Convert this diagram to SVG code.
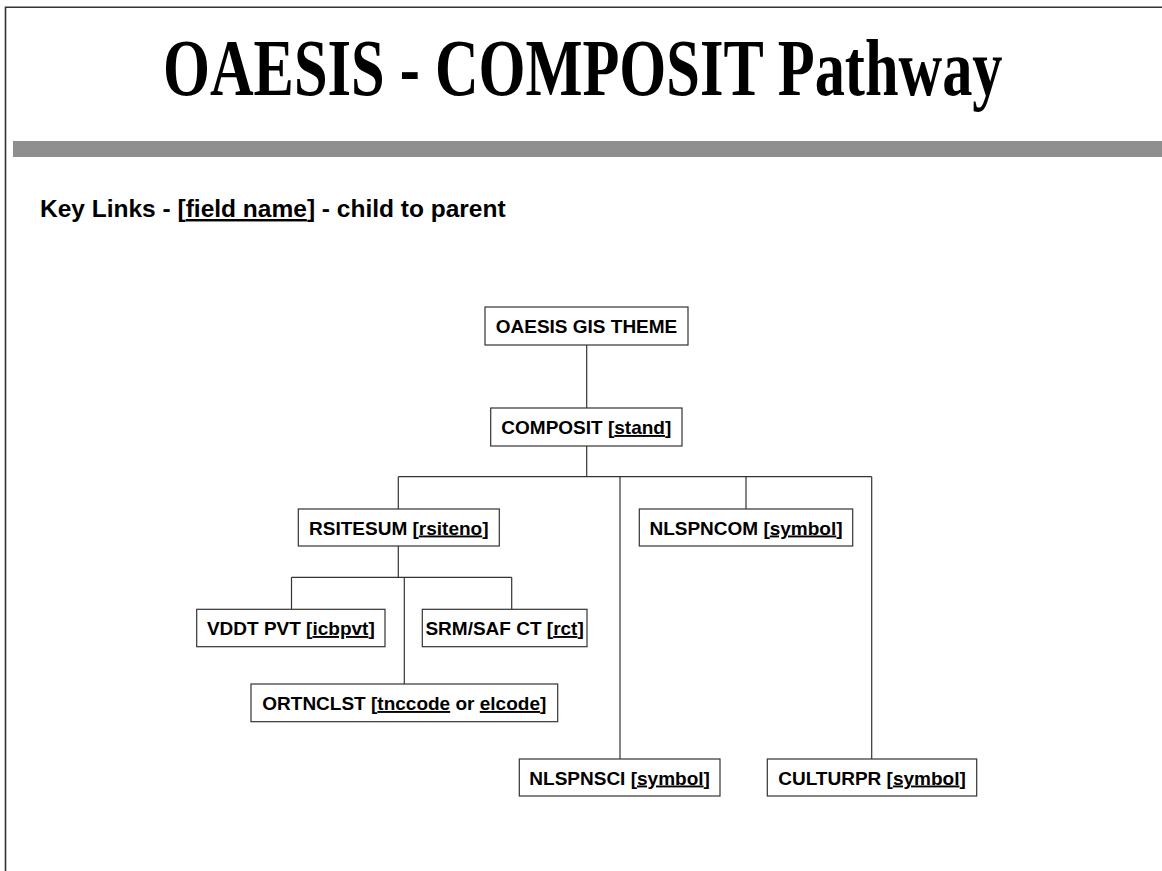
<svg xmlns="http://www.w3.org/2000/svg" width="1162" height="871" viewBox="0 0 1162 871">
<style>
.frame{stroke:#333;stroke-width:1.6;fill:none}
.box{fill:#fff;stroke:#333;stroke-width:1.2}
.lbl{font-family:"Liberation Sans",Arial,sans-serif;font-weight:bold;font-size:19px;fill:#000;text-anchor:middle}
.u{text-decoration:underline}
.conn{stroke:#333;stroke-width:1.2;fill:none}
</style>
<rect x="0" y="0" width="1162" height="871" fill="#fff"/>
<path class="frame" d="M5.5 871 V7.3 H1162"/>
<rect x="13" y="141" width="1149" height="16" fill="#8f8f8f"/>
<text transform="translate(163,95) scale(0.755,1)" x="0" y="0" font-family="'Liberation Serif','Times New Roman',serif" font-weight="bold" font-size="80" textLength="1112" lengthAdjust="spacingAndGlyphs">OAESIS - COMPOSIT Pathway</text>
<text x="40" y="217" font-family="'Liberation Sans',Arial,sans-serif" font-weight="bold" font-size="24.5">Key Links - [<tspan class="u">field name</tspan>] - child to parent</text>
<g id="connectors">
<path class="conn" d="M586.7 345 V408"/>
<path class="conn" d="M586.7 446 V476.7"/>
<path class="conn" d="M398.3 476.7 H871.7"/>
<path class="conn" d="M398.3 476.7 V509"/>
<path class="conn" d="M620 476.7 V759"/>
<path class="conn" d="M746 476.7 V509"/>
<path class="conn" d="M871.7 476.7 V759"/>
<path class="conn" d="M398.3 546 V577.3"/>
<path class="conn" d="M291.5 577.3 H511.7"/>
<path class="conn" d="M291.5 577.3 V609.3"/>
<path class="conn" d="M511.7 577.3 V609.3"/>
<path class="conn" d="M404.3 577.3 V684"/>
</g>
<g id="n-oaesis">
<rect class="box" x="485" y="307" width="203" height="38"/>
<text class="lbl" x="586.5" y="333">OAESIS GIS THEME</text>
</g>
<g id="n-composit">
<rect class="box" x="490.7" y="408" width="191.3" height="38"/>
<text class="lbl" x="586.3" y="434">COMPOSIT [<tspan class="u">stand</tspan>]</text>
</g>
<g id="n-rsitesum">
<rect class="box" x="298.3" y="509" width="201" height="37"/>
<text class="lbl" x="398.8" y="534.5">RSITESUM [<tspan class="u">rsiteno</tspan>]</text>
</g>
<g id="n-nlspncom">
<rect class="box" x="639.3" y="509" width="213.4" height="37"/>
<text class="lbl" x="746" y="534.5">NLSPNCOM [<tspan class="u">symbol</tspan>]</text>
</g>
<g id="n-vddt">
<rect class="box" x="196.7" y="609.3" width="188.3" height="37.4"/>
<text class="lbl" x="290.8" y="635">VDDT PVT [<tspan class="u">icbpvt</tspan>]</text>
</g>
<g id="n-srm">
<rect class="box" x="422.3" y="609.3" width="164.7" height="37.4"/>
<text class="lbl" x="504.6" y="635">SRM/SAF CT [<tspan class="u">rct</tspan>]</text>
</g>
<g id="n-ortnclst">
<rect class="box" x="251" y="684" width="306.7" height="37.7"/>
<text class="lbl" x="404.3" y="710">ORTNCLST [<tspan class="u">tnccode</tspan> or <tspan class="u">elcode</tspan>]</text>
</g>
<g id="n-nlspnsci">
<rect class="box" x="519.3" y="759" width="200.7" height="37"/>
<text class="lbl" x="619.6" y="784.5">NLSPNSCI [<tspan class="u">symbol</tspan>]</text>
</g>
<g id="n-culturpr">
<rect class="box" x="767.3" y="759" width="209.4" height="37"/>
<text class="lbl" x="872" y="784.5">CULTURPR [<tspan class="u">symbol</tspan>]</text>
</g>
</svg>
